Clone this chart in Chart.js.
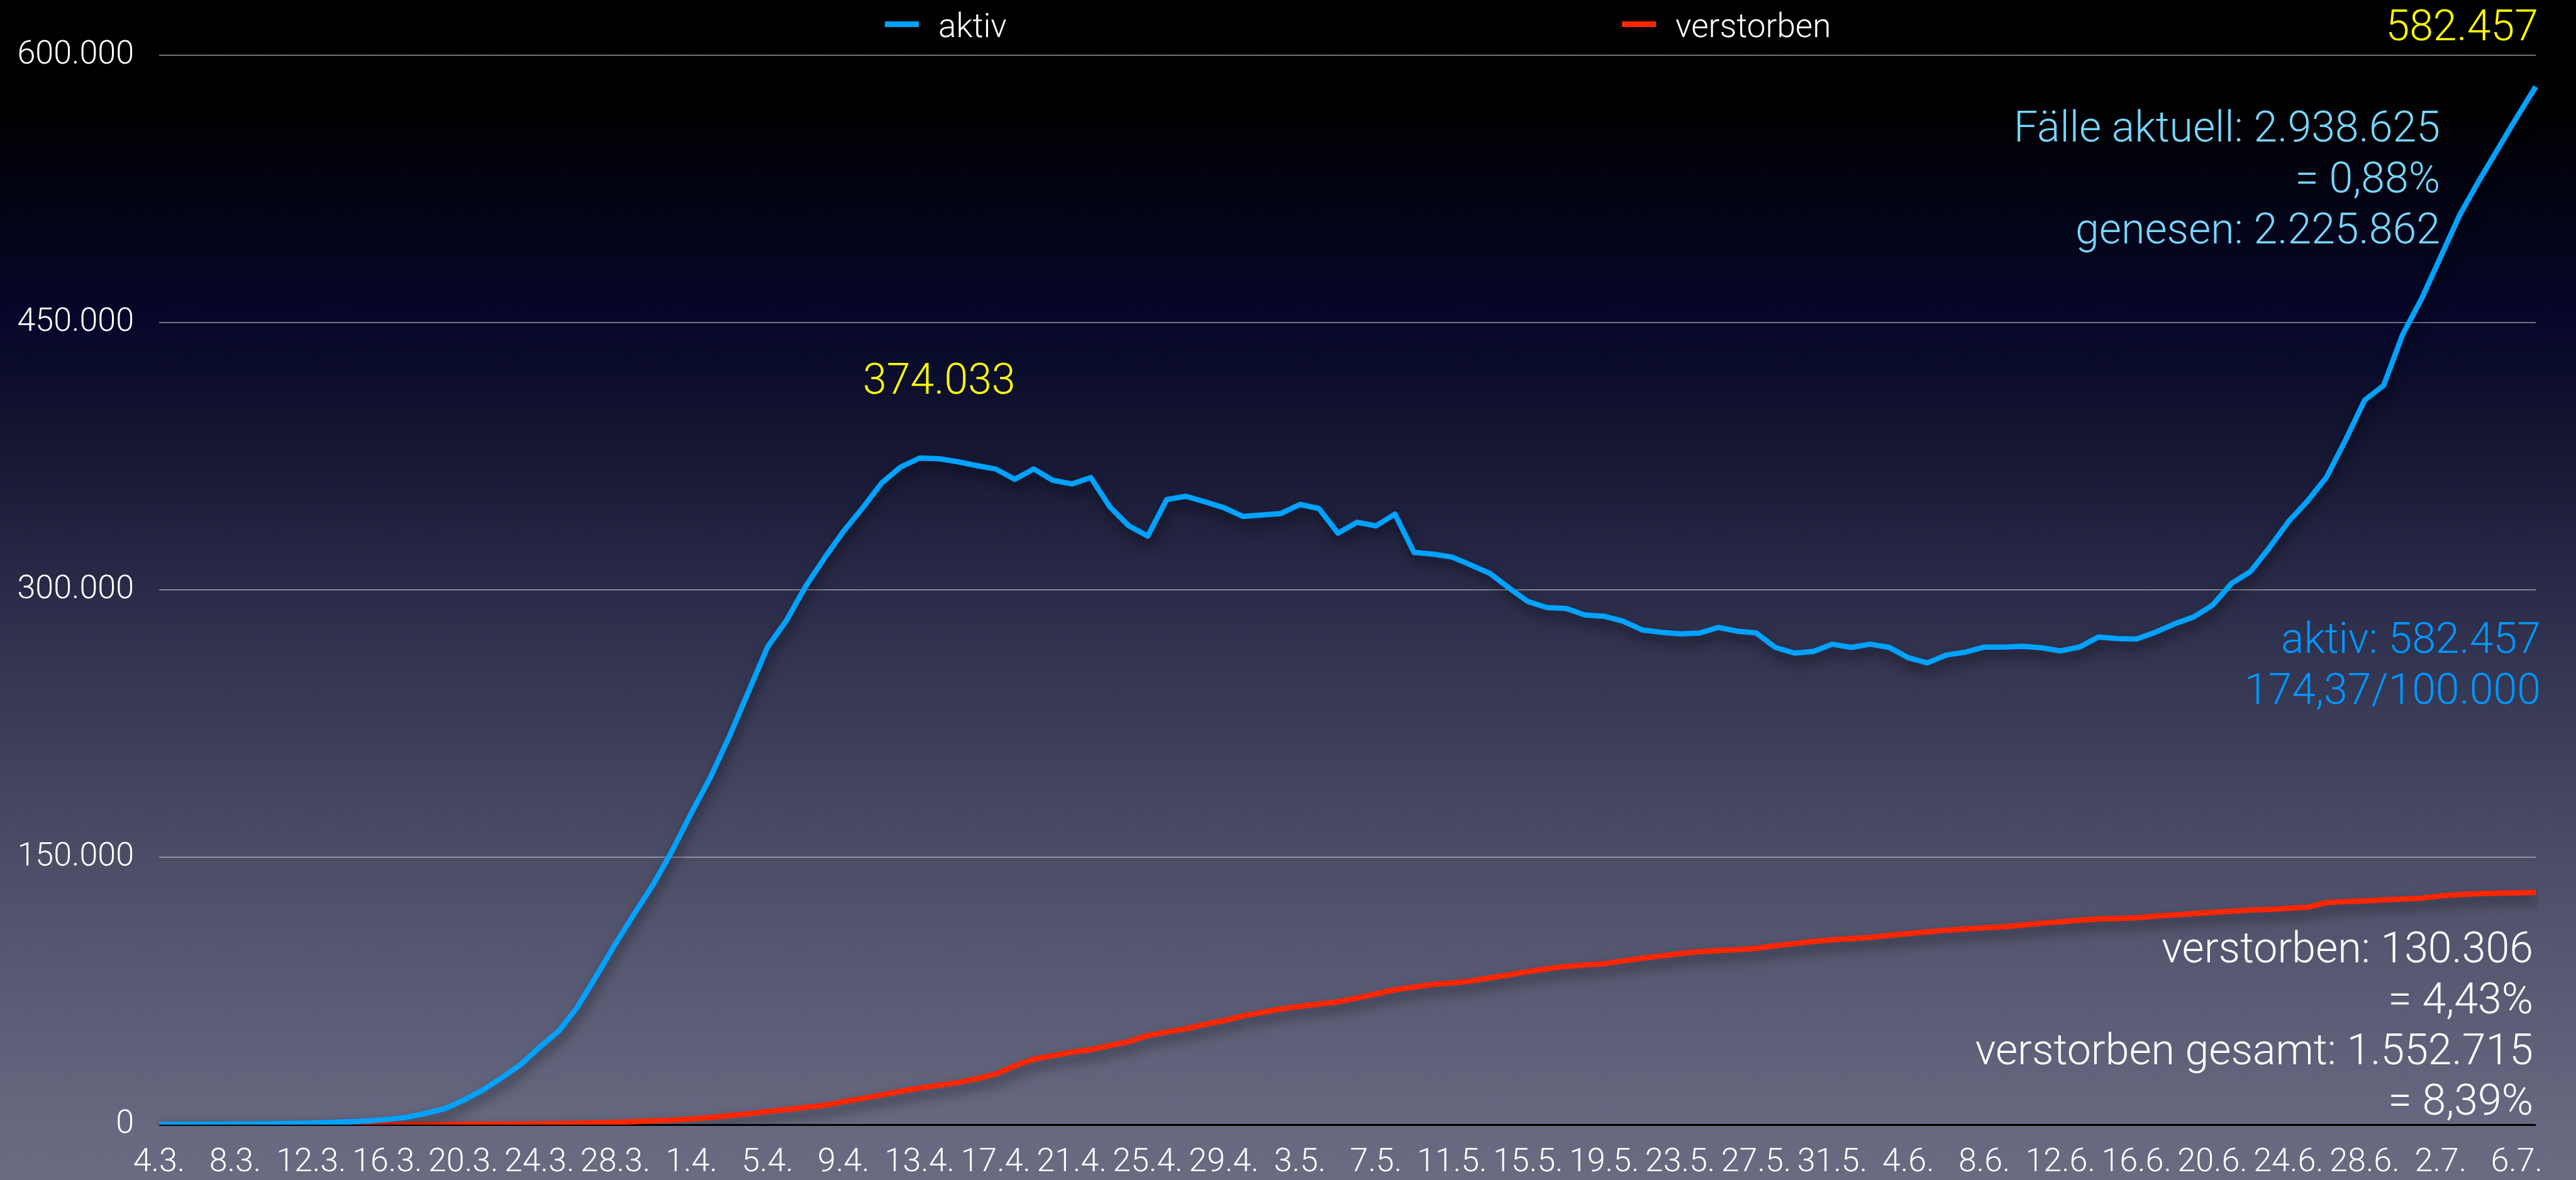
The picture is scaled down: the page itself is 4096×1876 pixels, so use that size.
<!DOCTYPE html>
<html lang="de">
<head>
<meta charset="UTF-8">
<title>aktiv / verstorben</title>
<script src="https://cdn.jsdelivr.net/npm/chart.js@4.4.1/dist/chart.umd.min.js"></script>
<style>
    html, body { margin: 0; padding: 0; background: #000; }
    canvas { display: block; }
</style>
</head>
<body>

<canvas id="myChart" width="4096" height="1876"></canvas>

<script>

    // days shown per month: [month, first day, last day]
    var months = [['3', 4, 31], ['4', 1, 30], ['5', 1, 31], ['6', 1, 30], ['7', 1, 7]];

    var dates = [];
    months.forEach(function (m) {
        for (var d = m[1]; d <= m[2]; d++) dates.push(d + '.' + m[0] + '.');
    });

    var aktiv = [
        120, 140, 190, 230, 320, 410, 510, 670, 880, 1200,
        1600, 2100, 2900, 4100, 6300, 8900, 13600, 19300, 26200, 33600,
        43400, 52300, 66000, 83500, 101500, 118500, 135000, 154000, 175000, 195000,
        218000, 243000, 268000, 283000, 302000, 318000, 333000, 346000, 360000, 369000,
        374033, 373700, 372000, 369800, 367900, 362100, 367900, 361600, 359500, 363100,
        346700, 336000, 330300, 350800, 352600, 349500, 346200, 341300, 342100, 342900,
        348000, 345700, 331900, 338000, 336000, 342600, 321100, 320100, 318500, 314000,
        309300, 301100, 293500, 290100, 289700, 286000, 285300, 282500, 277600, 276300,
        275400, 275800, 279000, 276900, 275900, 267800, 264600, 265500, 269600, 267800,
        269600, 267800, 262000, 259100, 263500, 265100, 268000, 268000, 268400, 267600,
        265800, 268000, 273600, 272700, 272500, 276300, 281000, 284800, 291500, 303700,
        310400, 323900, 338400, 350000, 363400, 384200, 406500, 414800, 443400, 463500,
        487000, 510400, 529400, 547300, 565200, 582457
    ];

    var verstorben = [
        10, 11, 12, 14, 17, 21, 22, 26, 30, 38,
        41, 50, 57, 68, 86, 108, 150, 200, 260, 340,
        450, 590, 780, 1030, 1300, 1700, 2190, 2600, 3150, 4060,
        5100, 6100, 7400, 8500, 9700, 10900, 12900, 14800, 16700, 18700,
        20600, 22100, 23600, 25800, 28400, 33000, 36800, 38700, 40700, 42100,
        44400, 46600, 50000, 52000, 53800, 56300, 58400, 61000, 63000, 64900,
        66400, 67700, 68900, 71100, 73400, 75700, 77200, 78800, 79500, 80700,
        82400, 84100, 85900, 87500, 88800, 89600, 90300, 91900, 93400, 94700,
        96000, 97100, 97700, 98200, 98900, 100400, 101600, 102800, 103800, 104400,
        105100, 106200, 107200, 108200, 109100, 109800, 110500, 111000, 112000, 113000,
        113800, 114700, 115400, 115700, 116100, 117000, 117700, 118400, 119100, 119700,
        120400, 120800, 121400, 122000, 124600, 125200, 125600, 126100, 126600, 127100,
        128400, 129100, 129600, 129900, 130100, 130306
    ];

    var yTicks = [0, 150000, 300000, 450000, 600000];

    var summaryCases = ['Fälle aktuell: 2.938.625', '= 0,88%', 'genesen: 2.225.862'];
    var summaryDeaths = ['= 4,43%', 'verstorben gesamt: 1.552.715', '= 8,39%'];
    var perHundredK = '174,37/100.000';

    var FONT = "Roboto, 'Liberation Sans', sans-serif";

    function fmt(v) {
        return String(v).replace(/\B(?=(\d{3})+(?!\d))/g, '.');
    }

    // first wave peak (April), searched before the summer rise
    var firstWave = aktiv.slice(0, 80);
    var peakIdx = firstWave.indexOf(Math.max.apply(null, firstWave));
    var last = aktiv.length - 1;

    // page backdrop: black at the top fading to slate grey
    var backdrop = {
        id: 'backdrop',
        beforeDraw: function (chart) {
            var c = chart.ctx;
            var g = c.createLinearGradient(0, 0, 0, chart.height);
            g.addColorStop(0, '#000000');
            g.addColorStop(0.1, '#010104');
            g.addColorStop(0.27, '#06072a');
            g.addColorStop(0.35, '#10122e');
            g.addColorStop(0.5, '#2a2b48');
            g.addColorStop(0.73, '#4c4e68');
            g.addColorStop(0.95, '#666880');
            g.addColorStop(1, '#696b81');
            c.save();
            c.fillStyle = g;
            c.fillRect(0, 0, chart.width, chart.height);
            c.restore();
        }
    };

    // soft drop shadow under the lines
    var lineShadow = {
        id: 'lineShadow',
        beforeDatasetDraw: function (chart) {
            var c = chart.ctx;
            c.save();
            c.shadowColor = 'rgba(0, 0, 0, 0.5)';
            c.shadowBlur = 18;
            c.shadowOffsetX = 3;
            c.shadowOffsetY = 10;
        },
        afterDatasetDraw: function (chart) {
            chart.ctx.restore();
        }
    };

    // legend and the text notes
    var notes = {
        id: 'notes',
        afterDatasetsDraw: function (chart) {
            var c = chart.ctx;
            var area = chart.chartArea;
            var xs = chart.scales.x;
            c.save();

            // legend
            c.font = '300 53px ' + FONT;
            c.textAlign = 'left';
            c.textBaseline = 'alphabetic';
            chart.data.datasets.forEach(function (ds, i) {
                var x0 = i === 0 ? 1407 : 2579;
                c.fillStyle = ds.borderColor;
                c.fillRect(x0, 34, 54, 9);
                c.fillStyle = '#ffffff';
                c.fillText(ds.label, x0 + 85, 59);
            });

            c.font = '300 68px ' + FONT;

            // peak and latest value
            c.fillStyle = '#ffff00';
            c.textAlign = 'center';
            c.fillText(fmt(aktiv[peakIdx]), xs.getPixelForValue(peakIdx) + 31, 626);
            c.textAlign = 'right';
            c.fillText(fmt(aktiv[last]), area.right + 4, 64);

            // totals
            c.fillStyle = '#76d6ff';
            summaryCases.forEach(function (t, i) {
                c.fillText(t, area.right - 152, 225 + i * 81);
            });

            c.fillStyle = '#0096ff';
            c.fillText('aktiv: ' + fmt(aktiv[last]), area.right + 8, 1038);
            c.fillText(perHundredK, area.right + 8, 1119);

            c.fillStyle = '#ffffff';
            c.fillText('verstorben: ' + fmt(verstorben[last]), area.right - 4, 1530);
            summaryDeaths.forEach(function (t, i) {
                c.fillText(t, area.right - 4, 1611 + i * 80.5);
            });

            c.restore();
        }
    };

    var ctx = document.getElementById('myChart');

    var chart = new Chart(ctx, {
        type: 'line',
        data: {
            labels: dates,
            datasets: [{
                label: 'aktiv',
                data: aktiv,
                borderColor: '#00a2ff',
                borderWidth: 8.5,
                borderJoinStyle: 'round',
                pointRadius: 0,
                tension: 0
            }, {
                label: 'verstorben',
                data: verstorben,
                borderColor: '#ff2600',
                borderWidth: 8.5,
                borderJoinStyle: 'round',
                pointRadius: 0,
                tension: 0
            }]
        },
        options: {
            responsive: false,
            animation: false,
            devicePixelRatio: 1,
            layout: { padding: { top: 88, right: 64, left: 0, bottom: 0 } },
            plugins: {
                legend: { display: false },
                tooltip: { enabled: false }
            },
            scales: {
                x: {
                    grid: { display: false, drawTicks: false },
                    border: { display: false },
                    ticks: {
                        autoSkip: false,
                        maxRotation: 0,
                        color: '#ffffff',
                        font: { family: FONT, size: 52, weight: 300, lineHeight: 1 },
                        padding: 35,
                        callback: function (v, i) { return i % 4 === 0 ? dates[i] : ''; }
                    },
                    afterFit: function (s) { s.height = 88; }
                },
                y: {
                    min: yTicks[0],
                    max: yTicks[yTicks.length - 1],
                    border: { display: false },
                    grid: {
                        drawTicks: false,
                        color: function (c) { return c.tick && c.tick.value === 0 ? '#000000' : 'rgba(200, 200, 205, 0.75)'; },
                        lineWidth: function (c) { return c.tick && c.tick.value === 0 ? 3 : 1.5; }
                    },
                    afterBuildTicks: function (s) {
                        s.ticks = yTicks.map(function (v) { return { value: v }; });
                    },
                    ticks: {
                        color: '#ffffff',
                        font: { family: FONT, size: 52, weight: 300 },
                        padding: 40,
                        callback: function (v) { return fmt(v); }
                    },
                    afterFit: function (s) { s.width = 253; }
                }
            }
        },
        plugins: [backdrop, lineShadow, notes]
    });

</script>

</body>
</html>
